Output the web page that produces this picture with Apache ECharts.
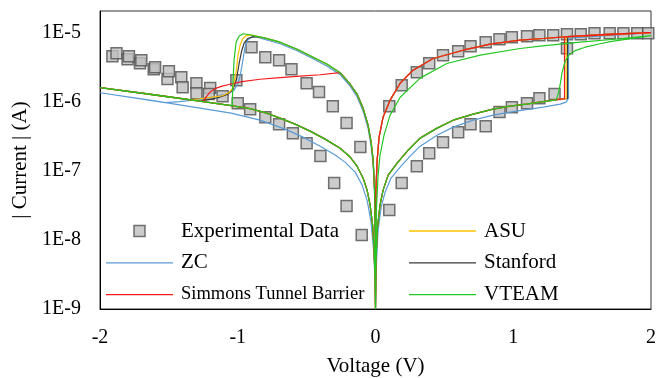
<!DOCTYPE html>
<html>
<head>
<meta charset="utf-8">
<script src="https://cdn.jsdelivr.net/npm/echarts@6/dist/echarts.min.js"></script>
<style>html,body{margin:0;padding:0;background:#fff}#c{width:656px;height:378px}</style>
</head>
<body>
<div id="c"></div>
<script>
// ---- tick labels ----
const xTicks = [-2, -1, 0, 1, 2];
const yTickExp = [-9, -8, -7, -6, -5];
const yTickLabels = ['1E-9', '1E-8', '1E-7', '1E-6', '1E-5'];

// ---- experimental data (voltage V, |current| A) ----
const expV = [-1.91,-1.88,-1.80,-1.79,-1.71,-1.70,-1.61,-1.60,-1.51,-1.50,-1.41,-1.40,-1.30,-1.30,-1.20,-1.21,-1.11,-1.01,
  -0.90,-0.80,-0.70,-0.61,-0.50,-0.41,-0.31,-0.21,-0.11,
  -1.00,-0.91,-0.80,-0.70,-0.60,-0.50,-0.40,-0.30,-0.21,-0.10,
  0.10,0.19,0.30,0.39,0.49,0.60,0.69,0.80,0.90,0.99,1.10,1.19,1.30,1.39,
  0.10,0.19,0.30,0.39,0.49,0.60,0.69,0.80,0.90,0.99,1.10,1.19,1.29,1.39,1.49,1.59,1.70,1.80,1.90,1.98];
const expI = [4.64e-6,5.13e-6,4.2e-6,4.64e-6,3.67e-6,4.06e-6,3.01e-6,3.21e-6,2.16e-6,2.81e-6,2.3e-6,1.65e-6,1.88e-6,1.35e-6,1.6e-6,1.31e-6,1.22e-6,2.08e-6,
  6.27e-6,4.49e-6,4.06e-6,3.01e-6,1.88e-6,1.4e-6,8.75e-7,4.97e-7,2.23e-7,
  9.67e-7,7.92e-7,6.06e-7,4.8e-7,3.55e-7,2.54e-7,1.65e-7,6.7e-8,3.11e-8,1.18e-8,
  2.72e-8,6.7e-8,1.18e-7,1.82e-7,2.63e-7,3.67e-7,4.8e-7,4.49e-7,7.17e-7,8.46e-7,9.67e-7,1.14e-6,1.31e-6,6.06e-6,
  8.75e-7,1.76e-6,2.72e-6,3.67e-6,4.8e-6,5.48e-6,6.48e-6,7.41e-6,8.19e-6,8.75e-6,9.05e-6,9.36e-6,9.36e-6,9.67e-6,9.67e-6,1e-5,1e-5,1e-5,1e-5,1e-5];

// ---- model branches [V, I] ----
// shared lower negative branch (0 -> -2)
const negLow = [[0,1e-9],[-0.003,2.63e-9],[-0.010,7.16e-9],[-0.021,1.65e-8],[-0.039,3.21e-8],[-0.061,5.3e-8],[-0.090,7.92e-8],
  [-0.134,1.18e-7],[-0.184,1.6e-7],[-0.257,2.15e-7],[-0.366,2.91e-7],[-0.475,3.8e-7],[-0.584,4.8e-7],[-0.693,5.86e-7],
  [-0.802,7.04e-7],[-0.911,8.05e-7],[-1.048,8.9e-7],[-1.274,1.034e-6],[-1.637,1.31e-6],[-2.0,1.63e-6]];
// shared upper negative branch (peak -> 0)
const negHigh = [[-0.911,9.51e-6],[-0.816,8.61e-6],[-0.693,7.41e-6],[-0.569,5.86e-6],[-0.453,4.49e-6],[-0.351,3.55e-6],
  [-0.257,2.68e-6],[-0.184,1.82e-6],[-0.134,1.31e-6],[-0.090,8.19e-7],[-0.054,4.64e-7],[-0.032,2.63e-7],[-0.017,1.44e-7],
  [-0.0065,5.3e-8],[-0.0015,1e-8],[0,1e-9]];
// shared lower positive branch (0 -> set)
const posLow = [[0,1e-9],[0.004,5.13e-9],[0.012,1.4e-8],[0.033,3.21e-8],[0.055,5.3e-8],[0.092,8.75e-8],[0.157,1.31e-7],
  [0.237,2.01e-7],[0.324,3.01e-7],[0.447,4.2e-7],[0.564,5.48e-7],[0.709,6.7e-7],[0.854,7.92e-7],[0.977,8.75e-7],
  [1.094,9.35e-7],[1.217,1.02e-6],[1.341,1.11e-6]];
// shared upper positive branch (2 -> 0)
const posHigh = [[2.0,1.023e-5],[1.704,9.67e-6],[1.391,8.9e-6],[1.217,8.38e-6],[1.050,7.92e-6],[0.832,6.93e-6],[0.636,5.67e-6],
  [0.418,4.3e-6],[0.273,2.91e-6],[0.179,1.88e-6],[0.106,1.07e-6],[0.055,6.06e-7],[0.026,3.11e-7],[0.012,1.44e-7],
  [0.003,5.3e-8],[0.001,1e-8],[0,1e-9]];

// ZC specific branches
const zcNegLow = [[0,1e-9],[-0.003,2.63e-9],[-0.014,7.16e-9],[-0.032,1.82e-8],[-0.061,3.8e-8],[-0.097,6.27e-8],[-0.148,9.67e-8],
  [-0.221,1.35e-7],[-0.293,1.71e-7],[-0.402,2.3e-7],[-0.511,3.01e-7],[-0.656,4.06e-7],[-0.838,5.48e-7],[-1.048,6.93e-7],
  [-1.274,8.19e-7],[-1.637,1.07e-6],[-2.0,1.37e-6]];
const zcTrans = [[-1.528,9.87e-7],[-1.419,1.02e-6],[-1.296,1.09e-6],[-1.165,1.2e-6],[-1.070,1.33e-6],[-1.027,1.49e-6],
  [-0.998,1.88e-6],[-0.983,2.38e-6],[-0.965,3.8e-6],[-0.947,6.27e-6],[-0.929,7.92e-6],[-0.903,8.75e-6],[-0.867,8.9e-6]];
const zcNegHigh = [[-0.816,8.24e-6],[-0.693,7.04e-6],[-0.569,5.58e-6],[-0.453,4.27e-6],[-0.351,3.32e-6],[-0.257,2.5e-6],
  [-0.184,1.71e-6],[-0.134,1.2e-6],[-0.090,7.41e-7],[-0.054,4.2e-7],[-0.032,2.3e-7],[-0.017,1.22e-7],[-0.0065,4.49e-8],
  [-0.0015,8.46e-9],[0,1e-9]];
const zcPosLow = [[0,1e-9],[0.008,5.13e-9],[0.019,1.4e-8],[0.041,3.01e-8],[0.070,4.96e-8],[0.113,7.92e-8],[0.179,1.14e-7],
  [0.251,1.65e-7],[0.324,2.3e-7],[0.447,3.32e-7],[0.564,4.34e-7],[0.709,5.48e-7],[0.854,6.48e-7],[0.977,7.16e-7],
  [1.094,7.79e-7],[1.217,8.46e-7],[1.341,9.35e-7],[1.384,1.0e-6],[1.401,1.14e-6],[1.401,8.46e-6]];

// transitions near -1 V
const asuTrans = [[-1.346,1.08e-6],[-1.274,1.12e-6],[-1.187,1.18e-6],[-1.114,1.24e-6],[-1.063,1.37e-6],[-1.034,1.62e-6],
  [-1.012,2.72e-6],[-0.998,4.8e-6],[-0.983,6.7e-6],[-0.965,8.32e-6],[-0.940,9.2e-6],[-0.896,9.36e-6]];
const stanTrans = [[-1.274,1.034e-6],[-1.216,1.09e-6],[-1.143,1.16e-6],[-1.070,1.31e-6],[-1.034,1.54e-6],[-1.009,2.15e-6],
  [-0.991,3.55e-6],[-0.972,5.48e-6],[-0.954,7.16e-6],[-0.925,8.46e-6],[-0.882,8.9e-6]];
const simTrans = [[-1.252,1.02e-6],[-1.230,1.18e-6],[-1.201,1.4e-6],[-1.165,1.57e-6],[-1.114,1.71e-6],[-1.056,1.82e-6],
  [-0.969,1.98e-6],[-0.838,2.15e-6],[-0.693,2.27e-6],[-0.548,2.38e-6],[-0.402,2.5e-6],[-0.257,2.68e-6]];
const vteamTrans = [[-1.041,8.92e-7],[-1.038,1.26e-6],[-1.034,2.08e-6],[-1.027,4.06e-6],[-1.012,7.41e-6],[-0.991,9.05e-6],[-0.962,9.83e-6]];

// set jumps near +1.4 V
const simJump = [[1.372,1.127e-6],[1.372,8.87e-6]];
const asuJump = [[1.384,1.127e-6],[1.384,8.87e-6]];
const stanJump = [[1.394,1.127e-6],[1.394,8.87e-6]];
const vteamJump = [[1.312,1.08e-6],[1.330,1.4e-6],[1.341,1.82e-6],[1.355,2.72e-6],[1.377,3.93e-6],[1.406,4.88e-6],
  [1.449,5.58e-6],[1.522,6.27e-6],[1.631,7.04e-6],[1.704,7.53e-6]];
const vteamPosHigh = [[2.0,9.2e-6],[1.776,8.32e-6],[1.486,7.41e-6],[1.196,6.48e-6],[1.050,6.0e-6],[0.760,4.8e-6],[0.518,3.64e-6],
  [0.324,2.23e-6],[0.179,1.18e-6],[0.106,6.48e-7],[0.062,3.32e-7],[0.033,1.71e-7],[0.019,8.75e-8],[0.008,3.21e-8],
  [0.002,1e-8],[0,1e-9]];

// ---- assemble series paths ----
const expData = expV.map((v, i) => [v, expI[i]]);
const zcData = [].concat(zcNegLow, zcTrans, zcNegHigh, zcPosLow, posHigh);
const stanData = [].concat(negLow, stanTrans, negHigh.slice(1), posLow, stanJump, posHigh);
const asuData = [].concat(negLow, asuTrans, negHigh.slice(1), posLow, asuJump, posHigh);
const simData = [].concat(negLow, simTrans, negHigh.slice(7), posLow, simJump, posHigh);
const vteamData = [].concat(negLow, vteamTrans, negHigh, posLow.slice(0, -2), vteamJump, vteamPosHigh);

const FONT = 'Liberation Serif';
const COLORS = {zc: '#5b9bd5', sim: '#f21c1c', asu: '#ffc000', stan: '#3a3a3a', vteam: '#22c822'};
const LINE_ICON = 'path://M0,0H100V2H0Z';
const SQ_ICON = 'path://M0,0H10V10H0Z';

function lineSeries(name, data, color) {
  return {
    name: name, type: 'line', data: data, showSymbol: false, symbol: 'none',
    lineStyle: {color: color, width: 1.2}, itemStyle: {color: color},
    animation: false, silent: true
  };
}

const chart = echarts.init(document.getElementById('c'), null, {renderer: 'canvas'});
const legendText = {fontFamily: FONT, fontSize: 21, color: '#000', lineHeight: 22, padding: [0, 0, 0, 3]};
chart.setOption({
  animation: false,
  backgroundColor: '#fff',
  grid: {left: 100, right: 5, top: 11, bottom: 69, show: true, borderColor: '#333', borderWidth: 1,
    containLabel: false, outerBoundsMode: 'none'},
  xAxis: {
    type: 'value', min: -2, max: 2, interval: 1,
    name: 'Voltage (V)', nameLocation: 'middle', nameGap: 46,
    nameTextStyle: {fontFamily: FONT, fontSize: 21, color: '#000', lineHeight: 22},
    axisLine: {show: true, onZero: false, lineStyle: {color: '#000', width: 1}},
    axisTick: {show: false}, splitLine: {show: false},
    axisLabel: {fontFamily: FONT, fontSize: 20, color: '#000', margin: 19,
      formatter: function (v) { const i = xTicks.indexOf(Math.round(v)); return i >= 0 ? String(xTicks[i]) : ''; }}
  },
  yAxis: {
    type: 'log', logBase: 10, min: 1e-9, max: 2.1e-5,
    name: '| Current | (A)', nameLocation: 'middle', nameGap: 66,
    nameTextStyle: {fontFamily: FONT, fontSize: 21, color: '#000', lineHeight: 22},
    axisLine: {show: true, onZero: false, lineStyle: {color: '#000', width: 1}},
    axisTick: {show: false}, splitLine: {show: false}, minorTick: {show: false},
    axisLabel: {fontFamily: FONT, fontSize: 20, color: '#000', margin: 19, showMaxLabel: false,
      formatter: function (v) {
        const e = Math.log10(v), k = Math.round(e);
        if (Math.abs(e - k) > 1e-6) return '';
        const i = yTickExp.indexOf(k);
        return i >= 0 ? yTickLabels[i] : '';
      }}
  },
  legend: [
    {
      orient: 'vertical', left: 106, top: 220, padding: 0, itemGap: 9.8,
      itemWidth: 67, itemHeight: 11, selectedMode: false, textStyle: legendText,
      data: [
        {name: 'Experimental Data', icon: SQ_ICON, itemStyle: {color: '#bfbfbf', borderColor: '#505050', borderWidth: 1.5}},
        {name: 'ZC', icon: LINE_ICON, itemStyle: {color: COLORS.zc, borderWidth: 0}},
        {name: 'Simmons Tunnel Barrier', icon: LINE_ICON, itemStyle: {color: COLORS.sim, borderWidth: 0},
          textStyle: {fontSize: 18.5, lineHeight: 22}}
      ]
    },
    {
      orient: 'vertical', left: 409, top: 220, padding: 0, itemGap: 9.8,
      itemWidth: 67, itemHeight: 11, selectedMode: false, textStyle: legendText,
      data: [
        {name: 'ASU', icon: LINE_ICON, itemStyle: {color: COLORS.asu, borderWidth: 0}},
        {name: 'Stanford', icon: LINE_ICON, itemStyle: {color: COLORS.stan, borderWidth: 0}},
        {name: 'VTEAM', icon: LINE_ICON, itemStyle: {color: COLORS.vteam, borderWidth: 0}}
      ]
    }
  ],
  series: [
    {
      name: 'Experimental Data', type: 'scatter', data: expData, symbol: 'rect', symbolSize: 11,
      itemStyle: {color: '#bfbfbf', borderColor: '#505050', borderWidth: 1.5}, animation: false, silent: true
    },
    lineSeries('ZC', zcData, COLORS.zc),
    lineSeries('Stanford', stanData, COLORS.stan),
    lineSeries('ASU', asuData, COLORS.asu),
    lineSeries('Simmons Tunnel Barrier', simData, COLORS.sim),
    lineSeries('VTEAM', vteamData, COLORS.vteam)
  ]
});
</script>
</body>
</html>
